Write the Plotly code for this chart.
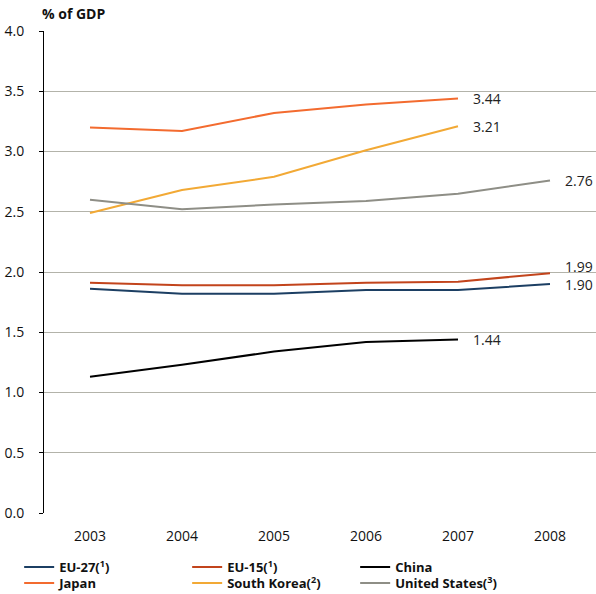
import plotly.graph_objects as go

years = [2003, 2004, 2005, 2006, 2007, 2008]

eu27 = [1.86, 1.82, 1.82, 1.85, 1.85, 1.90]
eu15 = [1.91, 1.89, 1.89, 1.91, 1.92, 1.99]
china = [1.13, 1.23, 1.34, 1.42, 1.44, None]
japan = [3.20, 3.17, 3.32, 3.39, 3.44, None]
south_korea = [2.49, 2.68, 2.79, 3.01, 3.21, None]
united_states = [2.60, 2.52, 2.56, 2.59, 2.65, 2.76]

# name, values, colour, label offset, legend row
series = [
    ("EU-27(<sup>1</sup>)", eu27, "#1c3f63", 0, "legend"),
    ("EU-15(<sup>1</sup>)", eu15, "#c2441c", 7, "legend"),
    ("China", china, "#000000", 0, "legend"),
    ("Japan", japan, "#f36b2f", 0, "legend2"),
    ("South Korea(<sup>2</sup>)", south_korea, "#f2a935", 0, "legend2"),
    ("United States(<sup>3</sup>)", united_states, "#8e8e86", 0, "legend2"),
]

FONT = "Open Sans, Noto Sans, DejaVu Sans, sans-serif"

fig = go.Figure()
annotations = []
for name, vals, color, yshift, leg in series:
    fig.add_trace(go.Scatter(
        x=years, y=vals, name=name, mode="lines",
        line=dict(color=color, width=2), legend=leg,
    ))
    # label the last available value of each series
    last_i = max(i for i, v in enumerate(vals) if v is not None)
    annotations.append(dict(
        x=years[last_i], y=vals[last_i], xref="x", yref="y",
        text=f"{vals[last_i]:.2f}", showarrow=False,
        xanchor="left", yanchor="middle", xshift=13, yshift=yshift,
        font=dict(family=FONT, size=14, color="#222222"),
    ))

annotations.append(dict(
    x=-0.008, y=1.036, xref="paper", yref="paper", text="<b>% of GDP</b>",
    xanchor="left", yanchor="middle",
    showarrow=False, font=dict(family=FONT, size=14, color="#111111"),
))

legend_style = dict(
    orientation="h", x=-0.045, xanchor="left", yanchor="middle",
    entrywidth=123, entrywidthmode="pixels", itemwidth=30,
    font=dict(family=FONT, size=13, color="#111111", weight="bold"),
    tracegroupgap=0, traceorder="normal", bgcolor="rgba(0,0,0,0)",
)

fig.update_layout(
    width=596, height=594,
    margin=dict(l=44, r=0, t=31, b=81, autoexpand=False),
    paper_bgcolor="white", plot_bgcolor="white",
    font=dict(family=FONT, size=14, color="#111111"),
    annotations=annotations,
    legend=dict(legend_style, y=-0.112),
    legend2=dict(legend_style, y=-0.1452),
    showlegend=True,
)

fig.update_xaxes(
    range=[2002.5, 2008.5], tickmode="array", tickvals=years,
    ticktext=[str(y) for y in years], showgrid=False, zeroline=False,
    showline=False, ticks="outside", ticklen=10, tickcolor="rgba(0,0,0,0)",
    tickfont=dict(family=FONT, size=14, color="#111111"),
)
fig.update_yaxes(
    range=[0, 4], tickmode="array", tickvals=[0, 0.5, 1, 1.5, 2, 2.5, 3, 3.5, 4],
    ticktext=["0.0", "0.5", "1.0", "1.5", "2.0", "2.5", "3.0", "3.5", "4.0"],
    showgrid=True, gridcolor="#b3b3aa", gridwidth=1,
    zeroline=True, zerolinecolor="white",
    showline=True, linecolor="black", linewidth=1,
    ticks="outside", ticklen=4, tickcolor="black", ticklabelstandoff=12,
    tickfont=dict(family=FONT, size=14, color="#111111"),
)

fig.write_html("out.html")
